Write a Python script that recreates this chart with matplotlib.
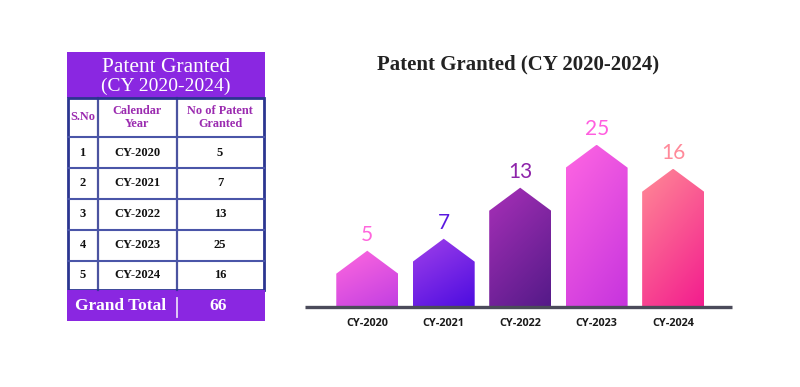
import matplotlib
matplotlib.use("Agg")
import matplotlib.pyplot as plt
import numpy as np
from matplotlib.patches import Polygon, Rectangle
from matplotlib.colors import to_rgb

# data
years = ["CY-2020", "CY-2021", "CY-2022", "CY-2023", "CY-2024"]
patents = [5, 7, 13, 25, 16]
serial_no = [1, 2, 3, 4, 5]
# drawn shoulder heights of the house-shaped bars (as in the picture)
bar_heights = [33, 45, 96, 139, 115]

# styles
top_colors = ["#ff68de", "#a040ea", "#a830b8", "#ff66e2", "#ff8a96"]
bottom_colors = ["#c23fe2", "#4c0ce0", "#541a88", "#c634de", "#f31c8e"]
label_colors = ["#ff66dd", "#5a18e0", "#8e24aa", "#ff5edf", "#ff8a9a"]
PURPLE = "#8a27e1"
NAVY = "#2b3590"
SERIF = "Liberation Serif"

fig = plt.figure(figsize=(8, 3.87), dpi=100)

# ---------- table (pixel coordinates) ----------
tab = fig.add_axes([0, 0, 1, 1])
tab.set_xlim(0, 800)
tab.set_ylim(387, 0)
tab.axis("off")

left, right = 66.5, 265
tab.add_patch(Rectangle((left, 52), right - left, 46, color=PURPLE, lw=0))
tab.text((left + right) / 2, 67, "Patent Granted", family=SERIF, fontsize=15.5,
         color="white", ha="center", va="center")
tab.text((left + right) / 2, 86, "(CY 2020-2024)", family=SERIF, fontsize=14,
         color="white", ha="center", va="center")

col_x = [67.5, 97.7, 176.7, 263.5]
row_y = [98, 137, 168, 199, 229.5, 260.5, 290]
for x in col_x[1:-1]:
    tab.plot([x, x], [row_y[0], row_y[-1]], color=NAVY, lw=1.6, alpha=0.85)
for y in row_y[1:-1]:
    tab.plot([col_x[0], col_x[-1]], [y, y], color="#4a55a8", lw=1.5)
tab.add_patch(Rectangle((col_x[0], row_y[0]), col_x[-1] - col_x[0], row_y[-1] - row_y[0],
                        fill=False, ec=NAVY, lw=2))

centers = [(col_x[i] + col_x[i + 1]) / 2 for i in range(3)]
hdr_y = (row_y[0] + row_y[1]) / 2
headers = ["S.No", "Calendar\nYear", "No of Patent\nGranted"]
for cx, h in zip(centers, headers):
    tab.text(cx, hdr_y, h, family=SERIF, fontweight="bold", fontsize=8.8,
             color="#9b2bb0", ha="center", va="center", linespacing=1.15)

for i, (s, yr, n) in enumerate(zip(serial_no, years, patents)):
    cy = (row_y[i + 1] + row_y[i + 2]) / 2
    for cx, txt in zip(centers, [str(s), yr, str(n)]):
        tab.text(cx, cy, txt, family=SERIF, fontweight="bold", fontsize=9,
                 color="#111111", ha="center", va="center")

tab.add_patch(Rectangle((left, 290), right - left, 30.5, color=PURPLE, lw=0))
tab.plot([176.5, 176.5], [298, 317], color="#e8d8f8", lw=1.3)
tab.text(121, 306, "Grand Total", family=SERIF, fontweight="bold", fontsize=12.5,
         color="white", ha="center", va="center")
tab.text(218, 306, str(sum(patents)), family=SERIF, fontweight="bold", fontsize=12.5,
         color="white", ha="center", va="center")

fig.text(518, 387 - 64, "Patent Granted (CY 2020-2024)", transform=None,
         family=SERIF, fontweight="bold", fontsize=15, color="#222222",
         ha="center", va="center")

# ---------- house-shaped bar chart ----------
ax = fig.add_axes([305 / 800, 80.3 / 387, 427 / 800, 196.7 / 387])
ax.set_xlim(-0.814, 4.77)
ax.set_ylim(0, 196.7)
ax.axis("off")

width = 0.81
roof = 23
for i, h in enumerate(bar_heights):
    x0, x1 = i - width / 2, i + width / 2
    poly = Polygon([(x0, 0), (x0, h), (i, h + roof), (x1, h), (x1, 0)],
                   closed=True, fc="none", ec="none")
    ax.add_patch(poly)
    gx, gy = np.meshgrid(np.linspace(0, 1, 60), np.linspace(0, 1, 120))
    t = np.clip(0.35 * gx + 0.65 * gy, 0, 1)[..., None]
    c0 = np.array(to_rgb(top_colors[i]))
    c1 = np.array(to_rgb(bottom_colors[i]))
    img = c0 * (1 - t) + c1 * t
    im = ax.imshow(img, extent=[x0, x1, 0, h + roof], origin="upper",
                   aspect="auto", interpolation="bilinear", zorder=2)
    im.set_clip_path(poly)
    ax.text(i, h + roof + 6, str(patents[i]), family="Lato", fontweight="normal",
            fontsize=15, color=label_colors[i], ha="center", va="bottom")

ax.plot([-0.814, 4.77], [0, 0], color="#4b4b5a", lw=2.4, solid_capstyle="butt",
        clip_on=False, zorder=3)
for i, yr in enumerate(years):
    ax.text(i, -16.5, yr, family="Open Sans", fontweight="bold", fontsize=7.8,
            color="#1a1a1a", ha="center", va="center")

fig.savefig("out.png", dpi=100)
